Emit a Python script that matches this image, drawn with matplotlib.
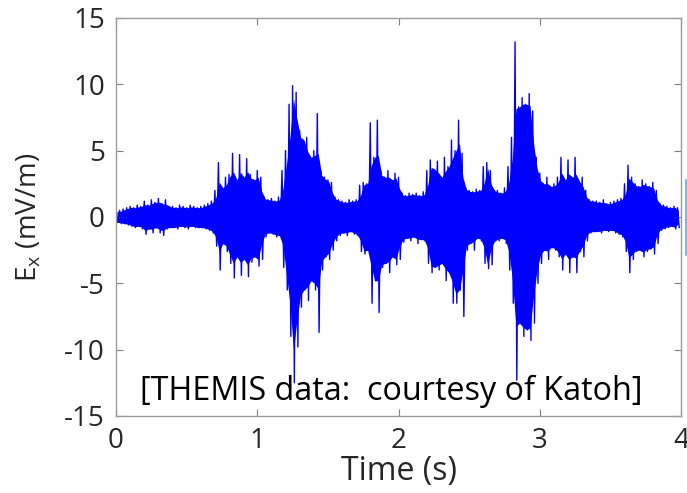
import numpy as np
import matplotlib.pyplot as plt
from matplotlib.lines import Line2D

# envelope of Ex, one value per 0.025 s bin (0 .. 4 s)
bin_width = 0.025
ex_top = [
    0.4, 0.5, 0.6, 0.7,   0.8, 0.7, 0.9, 0.8,   1.2, 0.9, 1.3, 1.1,   1.4, 1.0, 1.3, 0.8,
    0.8, 0.7, 0.9, 0.8,   0.7, 0.9, 0.8, 0.7,   0.8, 0.9, 1.0, 1.2,   2.0, 4.1, 2.2, 3.0,
    3.2, 4.8, 2.8, 4.7,   3.0, 4.4, 3.2, 2.8,   3.5, 3.0, 1.5, 1.3,   1.4, 1.2, 1.5, 3.5,
    5.0, 8.5, 9.9, 9.4,   6.5, 5.8, 6.0, 4.5,   5.0, 7.8, 3.5, 3.0,   2.8, 2.6, 1.5, 1.3,
    1.2, 1.1, 1.3, 1.2,   1.3, 2.4, 2.6, 2.5,   7.1, 4.5, 7.3, 3.5,   3.0, 3.5, 2.8, 3.3,
    3.0, 1.8, 1.6, 1.8,   1.7, 1.8, 1.6, 1.9,   3.5, 4.3, 3.6, 4.2,   3.0, 4.5, 3.8, 5.8,
    5.0, 7.3, 4.8, 2.2,   2.0, 1.9, 2.1, 2.0,   3.8, 4.1, 3.5, 2.0,   2.0, 1.8, 2.2, 3.8,
    6.0, 13.2, 8.3, 9.0,  8.5, 9.3, 8.0, 4.5,   3.3, 2.5, 3.0, 2.3,   2.5, 3.0, 4.5, 2.8,
    4.3, 3.0, 4.5, 2.7,   3.0, 2.0, 1.3, 1.2,   1.2, 1.1, 1.3, 1.0,   1.1, 1.2, 1.3, 1.4,
    2.5, 3.9, 3.0, 2.5,   2.3, 2.8, 2.5, 2.3,   2.6, 2.0, 1.0, 0.9,   0.8, 0.7, 0.8, 0.7,
]
ex_bottom = [
    -0.4, -0.5, -0.5, -0.6,   -0.7, -0.8, -0.7, -0.9,   -1.3, -0.9, -1.2, -0.8,   -1.2, -1.4, -0.9, -0.8,
    -0.8, -0.9, -0.7, -0.8,   -0.9, -0.7, -0.8, -0.8,   -0.8, -0.9, -1.0, -1.2,   -2.2, -4.0, -2.0, -2.6,
    -3.5, -4.6, -3.0, -4.4,   -3.2, -4.5, -3.4, -3.0,   -3.7, -3.2, -1.5, -1.2,   -1.3, -1.5, -1.4, -3.8,
    -5.5, -9.0, -12.5, -9.8,  -6.8, -5.5, -6.3, -4.8,   -5.5, -8.7, -4.0, -3.0,   -3.2, -2.5, -1.8, -1.4,
    -1.2, -1.4, -1.1, -1.3,   -1.4, -2.6, -2.8, -2.5,   -6.5, -4.8, -7.2, -3.8,   -3.5, -4.2, -3.0, -3.6,
    -3.2, -1.9, -1.6, -1.8,   -1.5, -2.0, -1.7, -1.8,   -3.5, -4.2, -3.8, -4.0,   -3.5, -4.8, -4.2, -6.5,
    -6.5, -5.5, -7.5, -2.5,   -2.0, -2.5, -1.6, -1.8,   -3.5, -3.9, -3.6, -1.8,   -1.8, -1.6, -2.0, -4.0,
    -6.5, -12.3, -8.0, -9.0,  -8.5, -9.3, -8.0, -5.0,   -3.5, -2.5, -3.2, -2.3,   -2.5, -3.0, -4.0, -2.8,
    -4.2, -3.0, -4.2, -2.6,   -3.0, -1.8, -1.2, -1.1,   -1.1, -1.2, -1.0, -1.1,   -1.0, -1.2, -1.3, -1.5,
    -2.6, -4.2, -3.2, -2.6,   -2.5, -3.0, -2.6, -2.4,   -2.8, -2.0, -1.0, -0.9,   -0.8, -0.7, -0.9, -0.8,
]

x_ticks = [0, 1, 2, 3, 4]
y_ticks = [-15, -10, -5, 0, 5, 10, 15]

top = np.array(ex_top)
bot = np.array(ex_bottom)
t_start = np.arange(len(top)) * bin_width

# solid core: mostly the lowest envelope of each bin and its neighbours
min3_top = np.minimum(np.minimum(top, np.roll(top, 1)), np.roll(top, -1))
min3_bot = np.maximum(np.maximum(bot, np.roll(bot, 1)), np.roll(bot, -1))
core_top = 0.7 * min3_top + 0.3 * top
core_bot = 0.7 * min3_bot + 0.3 * bot

# spikes: zig-zag between the top and bottom of each bin
t = np.column_stack([t_start, t_start + bin_width / 2]).ravel()
ex = np.column_stack([top, bot]).ravel()

plt.rcParams['font.family'] = ['Open Sans', 'DejaVu Sans']
plt.rcParams['axes.unicode_minus'] = False

fig = plt.figure(figsize=(6.87, 4.93), dpi=100)
ax = fig.add_axes([0.1689, 0.1562, 0.8224, 0.8073])

ax.fill_between(t_start + bin_width / 4, core_top, core_bot, color='#0000ff', linewidth=0)
ax.plot(t, ex, color='#0000ff', linewidth=1.0)

ax.set_xlim(0, 4)
ax.set_ylim(-15, 15)
ax.set_xticks(x_ticks)
ax.set_yticks(y_ticks)
ax.tick_params(direction='in', top=True, right=True, length=5, width=0.8,
               color='#7f7f7f', labelsize=20, labelcolor='#262626', pad=8)
for s in ax.spines.values():
    s.set_color('#9a9a9a')
    s.set_linewidth(1.0)

ax.set_xlabel('Time (s)', fontsize=23, color='#262626', labelpad=0)
ax.set_ylabel(r'E$_\mathregular{x}$ (mV/m)', fontsize=20, color='#262626', labelpad=15)

ax.text(0.17, -13.8, '[THEMIS data:  courtesy of Katoh]', fontsize=23.3,
        color='black', va='baseline', ha='left')

# thin sliver of a neighbouring panel at the right edge
fig.add_artist(Line2D([0.9985, 0.9985], [0.483, 0.635], color='#7f9fcf', linewidth=1.2))

fig.savefig('out.png', dpi=100)
